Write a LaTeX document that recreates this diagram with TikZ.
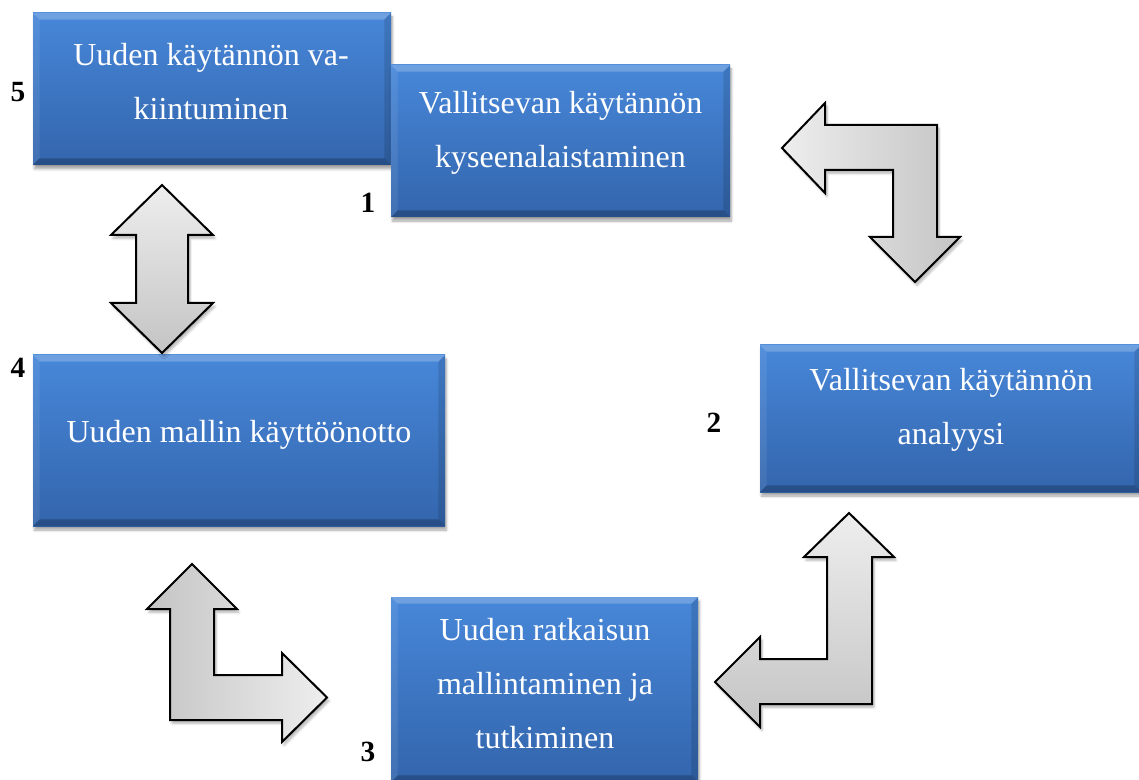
\documentclass[tikz,border=0pt]{standalone}
\usepackage{fontspec}
\setmainfont{Liberation Serif}
\usetikzlibrary{fit,shadows.blur}

\definecolor{boxtop}{HTML}{4787D9}
\definecolor{boxbot}{HTML}{3365AC}
\definecolor{arrowlight}{HTML}{EEEEEE}
\definecolor{arrowdark}{HTML}{C4C4C4}

\tikzset{
  blockbox/.style={rectangle, inner sep=0pt, draw=none,
    top color=boxtop, bottom color=boxbot,
    blur shadow={shadow xshift=1pt, shadow yshift=-3pt, shadow blur steps=6, shadow opacity=35}},
  boxtext/.style={text=white, align=center, font=\fontsize{24}{40.5}\selectfont},
  steplabel/.style={text=black, font=\fontsize{22}{26}\selectfont\bfseries},
  blockarrow/.style={draw=black, line width=1.5pt, line join=miter,
    blur shadow={shadow xshift=1.5pt, shadow yshift=-2.5pt, shadow blur steps=5, shadow opacity=30}},
}

% bevelled box between two corners
\newcommand\bevelbox[3]{%
  \node[blockbox, fit={#2 #3}] (#1) {};
  \fill[white, opacity=.22] (#1.north west) -- (#1.north east)
    -- ([shift={(-7,7)}]#1.north east) -- ([shift={(7,7)}]#1.north west) -- cycle;
  \fill[white, opacity=.08] (#1.north west) -- ([shift={(7,7)}]#1.north west)
    -- ([shift={(7,-7)}]#1.south west) -- (#1.south west) -- cycle;
  \fill[black, opacity=.12] (#1.north east) -- (#1.south east)
    -- ([shift={(-7,-7)}]#1.south east) -- ([shift={(-7,7)}]#1.north east) -- cycle;
  \fill[black, opacity=.22] (#1.south west) -- (#1.south east)
    -- ([shift={(-7,-7)}]#1.south east) -- ([shift={(7,-7)}]#1.south west) -- cycle;
}

\begin{document}
\begin{tikzpicture}[x=0.75pt, y=-0.75pt]
  \useasboundingbox (0,0) rectangle (1139,780);
  \clip (0,0) rectangle (1139,780);

  % boxes
  \bevelbox{b5}{(33,13)}{(391,165)}
  \bevelbox{b1}{(391,65)}{(730,217)}
  \bevelbox{b4}{(33,355)}{(445,526)}
  \bevelbox{b2}{(760,345)}{(1141,492)}
  \bevelbox{b3}{(391,597)}{(698,782)}

  % box texts
  \node[boxtext] (t5) at (211,81.5) {Uuden käytännön va-\\kiintuminen};
  \node[boxtext] (t1) at (560.5,133) {Vallitsevan käytännön\\kyseenalaistaminen};
  \node[boxtext] (t4) at (239,435) {Uuden mallin käyttöönotto};
  \node[boxtext] (t2) at (951,410) {Vallitsevan käytännön\\analyysi};
  \node[boxtext] (t3) at (545,684) {Uuden ratkaisun\\mallintaminen ja\\tutkiminen};

  % step numbers
  \node[steplabel] (n5) at (18,92) {5};
  \node[steplabel] (n1) at (368,203) {1};
  \node[steplabel] (n4) at (18,368) {4};
  \node[steplabel] (n2) at (714,423) {2};
  \node[steplabel] (n3) at (368,752) {3};

  % bent arrow: left and down
  \path[blockarrow, left color=arrowlight, right color=arrowdark]
    (782,148) -- (825,103) -- (825,125) -- (937,125) -- (937,237) -- (960,237)
    -- (915,282) -- (870,237) -- (893,237) -- (893,170) -- (825,170) -- (825,193) -- cycle;

  % double arrow: up and down
  \path[blockarrow, top color=arrowlight, bottom color=arrowdark]
    (162,185) -- (213,235) -- (188,235) -- (188,303) -- (213,303) -- (162,353)
    -- (111,303) -- (136,303) -- (136,235) -- (111,235) -- cycle;

  % bent arrow: up and right
  \path[blockarrow, left color=arrowdark, right color=arrowlight]
    (192,564) -- (237,609) -- (214,609) -- (214,675) -- (282,675) -- (282,653)
    -- (327,697.5) -- (282,742) -- (282,720) -- (170,720) -- (170,609) -- (147,609) -- cycle;

  % bent arrow: up and left
  \path[blockarrow, top color=arrowlight, bottom color=arrowdark]
    (849,513) -- (894,557) -- (872,557) -- (872,704) -- (760,704) -- (760,727)
    -- (715,682) -- (760,637) -- (760,659) -- (827,659) -- (827,557) -- (804,557) -- cycle;
\end{tikzpicture}
\end{document}
